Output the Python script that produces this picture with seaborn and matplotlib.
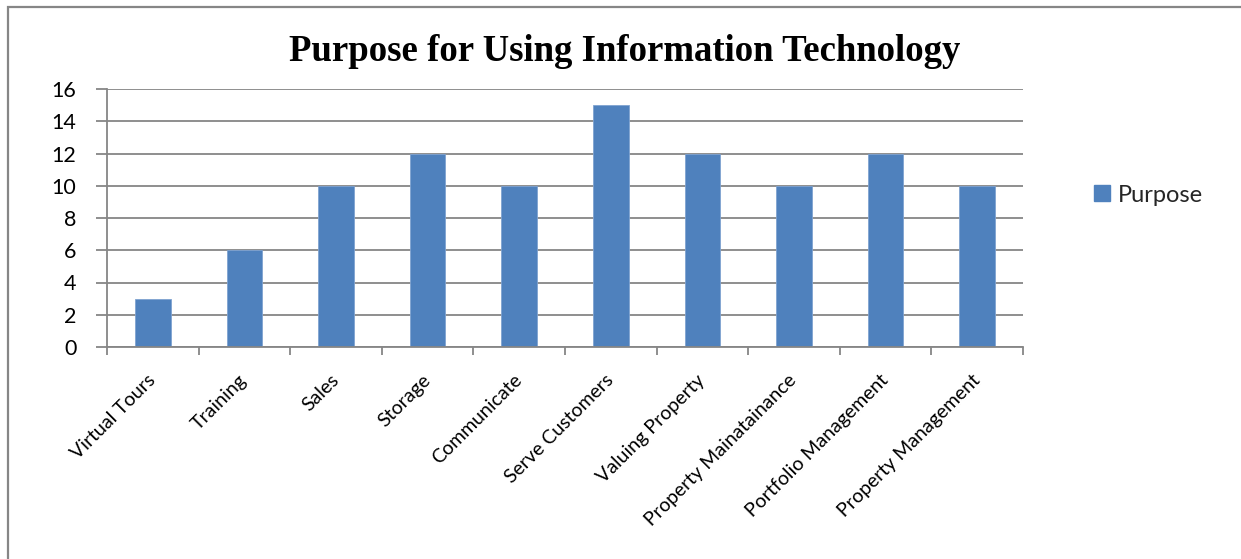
import matplotlib
matplotlib.use("Agg")
import matplotlib.pyplot as plt
from matplotlib.patches import Rectangle, Patch
import seaborn as sns
import pandas as pd

categories = ["Virtual Tours", "Training", "Sales", "Storage", "Communicate",
              "Serve Customers", "Valuing Property", "Property Mainatainance",
              "Portfolio Management", "Property Management"]
values = [3, 6, 10, 12, 10, 15, 12, 10, 12, 10]
yticks = [0, 2, 4, 6, 8, 10, 12, 14, 16]
series_name = "Purpose"
title = "Purpose for Using Information Technology"

sns.set_theme(style="white")
plt.rcParams["font.family"] = ["Lato", "DejaVu Sans"]

W, H = 1241, 559
fig = plt.figure(figsize=(W / 100, H / 100), dpi=100)
fig.patch.set_facecolor("white")

# outer chart frame
fig.add_artist(Rectangle((8 / W, -0.05), 1.1, 1 - 7 / H + 0.05, transform=fig.transFigure,
                         fill=False, edgecolor="#868686", linewidth=1.6, clip_on=False))

ax = fig.add_axes([107 / W, 1 - 347 / H, (1023 - 107) / W, (347 - 89) / H])
df = pd.DataFrame({"category": categories, "value": values})
bar_color = "#4F81BD"
sns.barplot(data=df, x="category", y="value", color=bar_color, width=0.39,
            edgecolor="#7FA3D1", linewidth=0.6, saturation=1, ax=ax)

ax.set_xlim(-0.5, len(categories) - 0.5)
ax.set_ylim(0, 16)
ax.set_yticks(yticks)
ax.set_xlabel("")
ax.set_ylabel("")
ax.set_axisbelow(True)
ax.yaxis.grid(True, color="#868686", linewidth=1.3)
ax.xaxis.grid(False)

for s in ["top", "right"]:
    ax.spines[s].set_visible(False)
for s in ["left", "bottom"]:
    ax.spines[s].set_color("#868686")
    ax.spines[s].set_linewidth(1.3)

# category boundaries carry the x tick marks
ax.set_xticks([i - 0.5 for i in range(len(categories) + 1)], minor=True)
ax.tick_params(axis="x", which="minor", length=6, width=1.3, color="#868686", direction="out", bottom=True)
ax.tick_params(axis="x", which="major", length=0, pad=22)
ax.tick_params(axis="y", length=8, width=1.3, color="#868686", direction="out", left=True, pad=14)

ax.set_xticks(range(len(categories)))
ax.set_xticklabels(categories, rotation=45, ha="right", va="center", rotation_mode="anchor",
                   fontsize=14, color="#000000")
for lbl in ax.get_yticklabels():
    lbl.set_fontsize(15.5)
    lbl.set_color("#000000")

fig.text(625 / W, 1 - 52 / H, title, ha="center", va="center", fontsize=26.5,
         fontweight="bold", family="Liberation Serif", color="#000000")

handle = Patch(facecolor=bar_color, edgecolor=bar_color)
fig.legend([handle], [series_name], loc="center left", bbox_to_anchor=(1073 / W, 1 - 195 / H),
           frameon=False, fontsize=17, handlelength=0.65, handleheight=0.65, handletextpad=0.35)

fig.savefig("out.png", dpi=100, facecolor="white")
